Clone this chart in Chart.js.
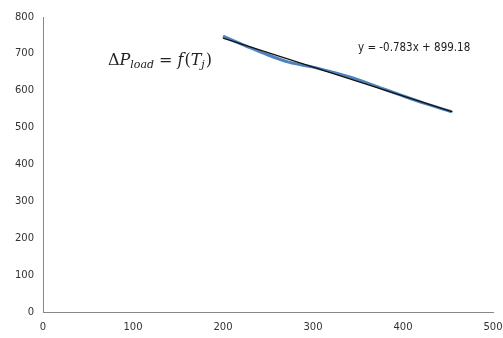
<!DOCTYPE html>
<html>
<head>
<meta charset="utf-8">
<script src="https://cdn.jsdelivr.net/npm/chart.js@4"></script>
<style>
  html, body { margin: 0; padding: 0; background: #fff; }
  #wrap { width: 503px; height: 338px; }
</style>
</head>
<body>
<div id="wrap"><canvas id="c" width="503" height="338"></canvas></div>
<script>
const tempX = [200, 225, 250, 274, 300, 325, 350, 375, 400, 425, 454];
const deltaP = [748, 722, 697, 677, 664, 648, 630, 608, 586, 565, 543];

// linear trend
const slope = -0.783;
const intercept = 899.18;
const trendX = [200, 455];

const xTicks = [0, 100, 200, 300, 400, 500];
const yTicks = [0, 100, 200, 300, 400, 500, 600, 700, 800];

const notes = {
    id: 'notes',
    afterDraw(chart) {
        const ctx = chart.ctx;
        ctx.save();
        ctx.fillStyle = '#222';
        ctx.textBaseline = 'alphabetic';
        // equation label
        ctx.font = '11.5px "DejaVu Sans Condensed", "DejaVu Sans", sans-serif';
        ctx.fillText('y = -0.783x + 899.18', 358, 51);
        // ΔP_load = f(T_j)
        let x = 108, y = 65;
        ctx.font = '16px "DejaVu Serif", serif';
        ctx.fillText('Δ', x, y); x += ctx.measureText('Δ').width;
        ctx.font = 'italic 16px "DejaVu Serif", serif';
        ctx.fillText('P', x, y); x += ctx.measureText('P').width;
        ctx.font = 'italic 11px "DejaVu Serif", serif';
        ctx.fillText('load', x, y + 3); x += ctx.measureText('load').width + 5;
        ctx.font = '16px "DejaVu Serif", serif';
        ctx.fillText('=', x, y); x += ctx.measureText('=').width + 5;
        ctx.font = 'italic 16px "DejaVu Serif", serif';
        ctx.fillText('f', x, y); x += ctx.measureText('f').width + 1;
        ctx.font = '16px "DejaVu Serif", serif';
        ctx.fillText('(', x, y); x += ctx.measureText('(').width;
        ctx.font = 'italic 16px "DejaVu Serif", serif';
        ctx.fillText('T', x, y); x += ctx.measureText('T').width;
        ctx.font = 'italic 11px "DejaVu Serif", serif';
        ctx.fillText('j', x, y + 3); x += ctx.measureText('j').width + 1;
        ctx.font = '16px "DejaVu Serif", serif';
        ctx.fillText(')', x, y);
        ctx.restore();
    }
};

new Chart(document.getElementById('c'), {
    type: 'scatter',
    data: {
        datasets: [
            {
                label: 'ΔP load',
                data: tempX.map((v, i) => ({ x: v, y: deltaP[i] })),
                showLine: true,
                borderColor: '#4f81bd',
                borderWidth: 3,
                pointRadius: 0,
                cubicInterpolationMode: 'monotone',
                order: 1
            },
            {
                label: 'Linear',
                data: trendX.map(v => ({ x: v, y: slope * v + intercept })),
                showLine: true,
                borderColor: '#111',
                borderWidth: 1.3,
                pointRadius: 0,
                order: 0
            }
        ]
    },
    options: {
        responsive: false,
        animation: false,
        layout: { padding: { top: 17, right: 10, left: 0, bottom: 0 } },
        plugins: { legend: { display: false }, tooltip: { enabled: false } },
        scales: {
            x: {
                type: 'linear',
                min: 0, max: 500,
                afterBuildTicks: s => { s.ticks = xTicks.map(v => ({ value: v })); },
                afterFit: s => { s.height = 26; s.paddingRight = 0; s.paddingLeft = 0; },
                grid: { display: false, drawTicks: true, tickLength: 4, color: '#888' },
                border: { color: '#888' },
                ticks: { color: '#333', font: { family: '"DejaVu Sans"', size: 10 }, padding: 5, maxRotation: 0 }
            },
            y: {
                min: 0, max: 800,
                afterBuildTicks: s => { s.ticks = yTicks.map(v => ({ value: v })); },
                afterFit: s => { s.width = 43; },
                grid: { display: false, drawTicks: true, tickLength: 4, color: '#888' },
                border: { color: '#888' },
                ticks: { color: '#333', font: { family: '"DejaVu Sans"', size: 10 }, padding: 5 }
            }
        }
    },
    plugins: [notes]
});
</script>
</body>
</html>
